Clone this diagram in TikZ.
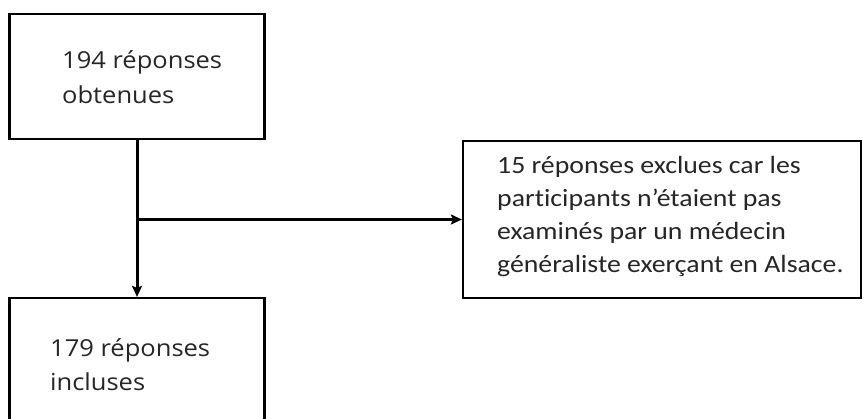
\documentclass[tikz,border=0pt]{standalone}
\usepackage{fontspec}
\setmainfont{Open Sans}[FakeStretch=1.09]
\newfontfamily\calfont{Carlito}[FakeStretch=1.12,Ligatures={NoCommon}]
\usetikzlibrary{arrows.meta}
\begin{document}
\begin{tikzpicture}[x=1pt,y=-1pt,
  box/.style={draw=black,line width=2.2pt,rectangle,inner sep=0pt},
  lbl/.style={anchor=base west,inner sep=0pt,align=left,text=black!85},
  conn/.style={line width=3pt,-{Stealth[length=11pt,width=10pt,inset=2pt]}}]
\useasboundingbox (0,0) rectangle (864,418);
\fill[white] (0,0) rectangle (864,418);
\node[box,minimum width=255pt,minimum height=125pt] (top) at (137,76.5) {};
\node[box,minimum width=255pt,minimum height=130pt] (bot) at (137,363) {};
\node[box,minimum width=398pt,minimum height=157pt] (excl) at (662,219.5) {};
\node[lbl,font=\fontsize{23.4}{35}\selectfont] (t1) at (62,103.3) {194 réponses\\obtenues};
\node[lbl,font=\fontsize{23.4}{34}\selectfont] (t2) at (50,390) {179 réponses\\incluses};
\node[lbl,font=\calfont\fontsize{24.8}{33}\selectfont] (t3) at (497,272) {15 réponses exclues car les\\participants n’étaient pas\\examinés par un médecin\\généraliste exerçant en Alsace.};
\coordinate (j) at (top.south |- excl.west);
\draw[conn] (top.south) -- (bot.north);
\draw[conn] (j) -- (excl.west);
\end{tikzpicture}
\end{document}
